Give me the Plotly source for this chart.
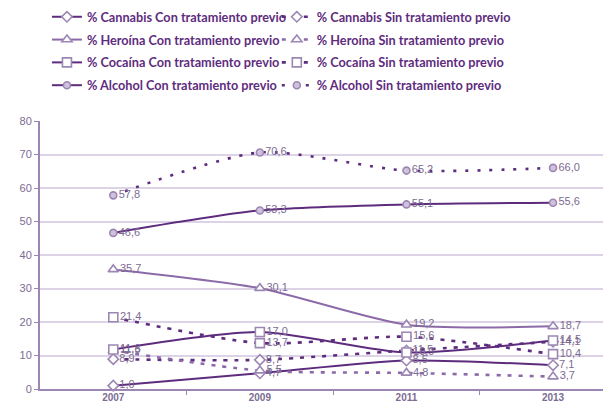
import plotly.graph_objects as go

years = ["2007", "2009", "2011", "2013"]
cannabis_con = [1.0, 4.7, 8.5, 7.1]
cannabis_sin = [8.9, 8.7, 11.5, 14.1]
heroina_con = [35.7, 30.1, 19.2, 18.7]
heroina_sin = [11.5, 5.5, 4.8, 3.7]
cocaina_con = [11.8, 17.0, 10.9, 14.5]
cocaina_sin = [21.4, 13.7, 15.6, 10.4]
alcohol_con = [46.6, 53.3, 55.1, 55.6]
alcohol_sin = [57.8, 70.6, 65.2, 66.0]
y_ticks = [0, 10, 20, 30, 40, 50, 60, 70, 80]

DARK = "#5e2c7e"
LIGHT = "#8c6aa8"
MARK = "#9c86b4"
LABEL = "#7c6b92"
DASH = "4px,7px"
DOT = "3px,9px"

series = [
    ("% Cannabis Con tratamiento previo", cannabis_con, "solid", "diamond", DARK, 8, "white", "legend"),
    ("% Cannabis Sin tratamiento previo", cannabis_sin, DASH, "diamond", DARK, 8, "white", "legend2"),
    ("% Heroína Con tratamiento previo", heroina_con, "solid", "triangle-up", LIGHT, 9, "white", "legend"),
    ("% Heroína Sin tratamiento previo", heroina_sin, DASH, "triangle-up", LIGHT, 9, "white", "legend2"),
    ("% Cocaína Con tratamiento previo", cocaina_con, "solid", "square", DARK, 9, "white", "legend"),
    ("% Cocaína Sin tratamiento previo", cocaina_sin, DASH, "square", DARK, 9, "white", "legend2"),
    ("% Alcohol Con tratamiento previo", alcohol_con, "solid", "circle", DARK, 7, "#cfc2dc", "legend"),
    ("% Alcohol Sin tratamiento previo", alcohol_sin, DOT, "circle", DARK, 7, "#cfc2dc", "legend2"),
]

xs = list(range(len(years)))
fig = go.Figure()
for i, (name, vals, dash, sym, col, msize, fill, leg) in enumerate(series):
    fig.add_trace(go.Scatter(
        x=xs, y=vals, name=name, mode="lines+markers+text",
        legend=leg, legendgroup=f"g{i}",
        line=dict(color=col, width=2.6 if dash != "solid" else 2, dash=dash, shape="spline", smoothing=0.7),
        marker=dict(symbol=sym, size=msize, color=fill, line=dict(color=MARK, width=1.6)),
        text=[f"{v:.1f}".replace(".", ",") for v in vals],
        textposition="middle right",
        textfont=dict(family="Liberation Sans, Arial", size=11, color=LABEL),
        cliponaxis=False,
    ))

leg_common = dict(
    orientation="v", yanchor="top", yref="paper", xanchor="left",
    font=dict(family="Lato, Liberation Sans", size=12.7, color=DARK, weight="bold"),
    tracegroupgap=3.3, itemwidth=30, borderwidth=0, bgcolor="rgba(0,0,0,0)",
)
fig.update_layout(
    width=611, height=404,
    margin=dict(l=32, r=0, t=113, b=23, autoexpand=False),
    paper_bgcolor="white", plot_bgcolor="white",
    font=dict(family="Liberation Sans, Arial", color=LABEL),
    legend=dict(x=0.012, y=1.444, **leg_common),
    legend2=dict(x=0.409, y=1.444, **leg_common),
    showlegend=True,
)

fig.update_xaxes(
    range=[-0.5, 3.45], tickvals=xs, ticktext=years, ticks="",
    showgrid=False, zeroline=False, showline=True, linecolor=MARK, linewidth=2,
    tickfont=dict(size=10, color=LABEL, family="Liberation Sans, Arial", weight="bold"),
    ticklabelstandoff=-2,
    minor=dict(tickvals=[0.5, 1.5, 2.5], ticks="outside", ticklen=4, tickcolor=MARK, showgrid=False),
)
fig.update_yaxes(
    range=[0, 80], tickvals=y_ticks, ticks="outside", ticklen=4, tickcolor=MARK,
    showgrid=True, gridcolor="#ddd3e6", gridwidth=1.5, zeroline=False,
    showline=True, linecolor=MARK, linewidth=2,
    tickfont=dict(size=11, color=LABEL, family="Liberation Sans, Arial"),
)

fig.write_html("out.html")
